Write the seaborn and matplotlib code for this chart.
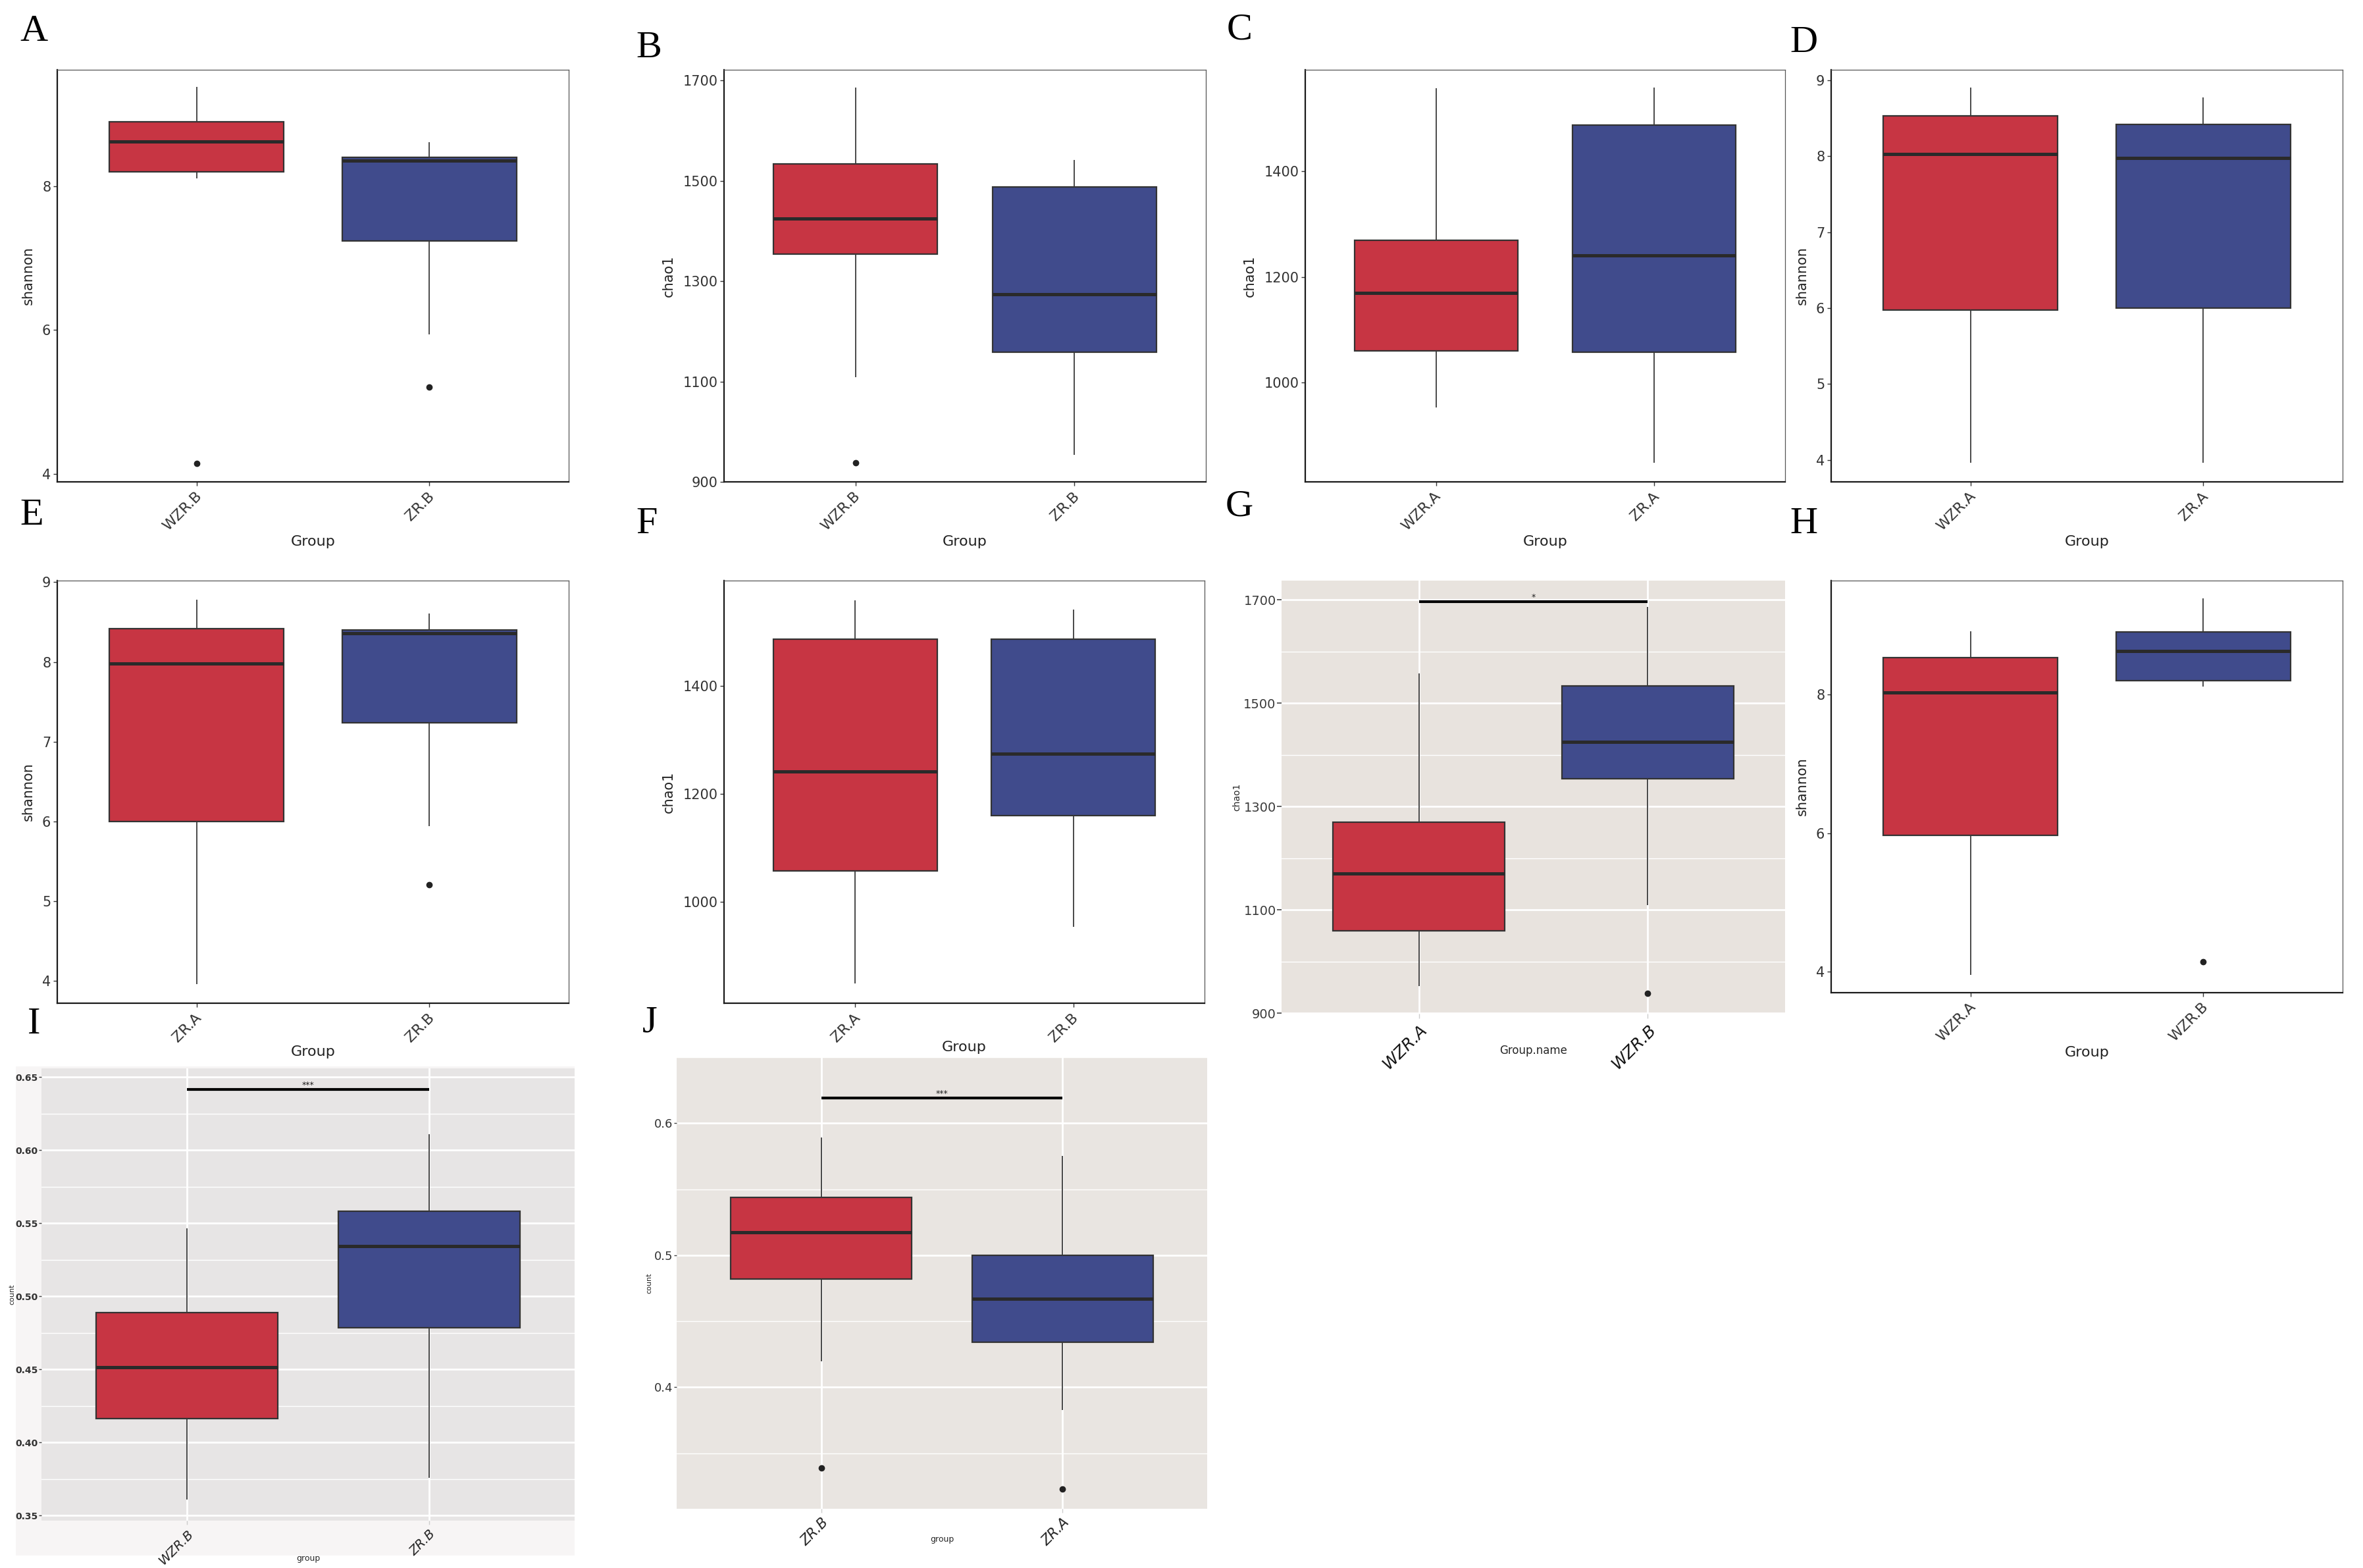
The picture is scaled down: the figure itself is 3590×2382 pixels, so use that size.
import numpy as np
import pandas as pd
import matplotlib
matplotlib.use("Agg")
import matplotlib.pyplot as plt
from matplotlib.patches import Rectangle
from matplotlib.transforms import ScaledTranslation
import seaborn as sns

# ---------------- data ----------------
# five-number summaries: [lower whisker, Q1, median, Q3, upper whisker]
shannon_WZR_A = [3.96, 5.97, 8.03, 8.53, 8.91]
shannon_WZR_B = [8.11, 8.20, 8.62, 8.90, 9.38]
shannon_ZR_A = [3.96, 6.00, 7.98, 8.42, 8.78]
shannon_ZR_B = [5.94, 7.24, 8.36, 8.40, 8.61]
shannon_out = {"WZR.A": [], "WZR.B": [4.15], "ZR.A": [], "ZR.B": [5.21]}

chao1_WZR_A = [953, 1060, 1170, 1269, 1557]
chao1_WZR_B = [1109, 1354, 1425, 1533, 1686]
chao1_ZR_A = [848, 1057, 1241, 1487, 1558]
chao1_ZR_B = [954, 1159, 1274, 1487, 1541]
chao1_out = {"WZR.A": [], "WZR.B": [938], "ZR.A": [], "ZR.B": []}

countI_WZR_B = [0.361, 0.4162, 0.4514, 0.489, 0.5464]
countI_ZR_B = [0.3757, 0.4784, 0.5342, 0.5581, 0.6108]
countI_out = {"WZR.B": [], "ZR.B": []}

countJ_ZR_B = [0.4195, 0.482, 0.5176, 0.544, 0.589]
countJ_ZR_A = [0.383, 0.434, 0.467, 0.500, 0.575]
countJ_out = {"ZR.B": [0.339], "ZR.A": [0.323]}

shannon = {"WZR.A": shannon_WZR_A, "WZR.B": shannon_WZR_B,
           "ZR.A": shannon_ZR_A, "ZR.B": shannon_ZR_B}
chao1 = {"WZR.A": chao1_WZR_A, "WZR.B": chao1_WZR_B,
         "ZR.A": chao1_ZR_A, "ZR.B": chao1_ZR_B}
countI = {"WZR.B": countI_WZR_B, "ZR.B": countI_ZR_B}
countJ = {"ZR.B": countJ_ZR_B, "ZR.A": countJ_ZR_A}

sig_G = (1696, "*")
sig_I = (0.6414, "***")
sig_J = (0.619, "***")

RED = "#C73543"
BLUE = "#404B8C"

W, H = 3590, 2382


def sample(five, out):
    lo, q1, med, q3, hi = five
    if not out:
        return [lo, q1, med, q3, hi]
    return list(out) + [lo, q1, q1, med, med, q3, q3, hi]


def frame(order, stats, outs):
    g, v = [], []
    for name in order:
        s = sample(stats[name], outs[name])
        g += [name] * len(s)
        v += s
    return pd.DataFrame({"group": g, "value": v})


sns.set_theme(style="ticks")
plt.rcParams["font.family"] = ["DejaVu Sans"]

fig = plt.figure(figsize=(W / 100, H / 100), dpi=100)

# light backdrop of panel I (pasted image)
fig.patches.append(Rectangle((24 / W, 1 - 2363 / H), (873 - 24) / W, (2363 - 1620) / H,
                             transform=fig.transFigure, facecolor="#F7F5F5",
                             edgecolor="none", zorder=-10))


def rect(x0, y0, x1, y1):
    return [x0 / W, 1 - y1 / H, (x1 - x0) / W, (y1 - y0) / H]


xlabel_pad = {"A": 2, "B": 2, "C": 2, "D": 2, "E": 1, "F": -4, "H": 2}

panels = [
    # letter, letter pos, axes px, order, stats, outs, ylim, yticks, ylabel, xlabel, style
    ("A", (30, 22), (87, 106, 864, 732), ["WZR.B", "ZR.B"], shannon, shannon_out,
     (3.89, 9.62), [4, 6, 8], "shannon", "Group", "white", None),
    ("B", (966, 47), (1100, 106, 1832, 732), ["WZR.B", "ZR.B"], chao1, chao1_out,
     (900, 1721), [900, 1100, 1300, 1500, 1700], "chao1", "Group", "white", None),
    ("C", (1864, 20), (1983, 106, 2712, 732), ["WZR.A", "ZR.A"], chao1, chao1_out,
     (812, 1592), [1000, 1200, 1400], "chao1", "Group", "white", None),
    ("D", (2719, 39), (2782, 106, 3559, 732), ["WZR.A", "ZR.A"], shannon, shannon_out,
     (3.71, 9.14), [4, 5, 6, 7, 8, 9], "shannon", "Group", "white", None),
    ("E", (30, 757), (87, 882, 864, 1524), ["ZR.A", "ZR.B"], shannon, shannon_out,
     (3.72, 9.02), [4, 5, 6, 7, 8, 9], "shannon", "Group", "white", None),
    ("F", (966, 770), (1100, 882, 1830, 1524), ["ZR.A", "ZR.B"], chao1, chao1_out,
     (812, 1595), [1000, 1200, 1400], "chao1", "Group", "white", None),
    ("G", (1862, 743), (1947, 882, 2712, 1540), ["WZR.A", "WZR.B"], chao1, chao1_out,
     (899, 1737), [900, 1100, 1300, 1500, 1700], "chao1", "Group.name", "ggG", sig_G),
    ("H", (2719, 770), (2782, 882, 3559, 1508), ["WZR.A", "WZR.B"], shannon, shannon_out,
     (3.70, 9.64), [4, 6, 8], "shannon", "Group", "white", None),
    ("I", (42, 1530), (63, 1623, 873, 2310), ["WZR.B", "ZR.B"], countI, countI_out,
     (0.3464, 0.656), [0.35, 0.40, 0.45, 0.50, 0.55, 0.60, 0.65], "count", "group", "ggI", sig_I),
    ("J", (976, 1527), (1028, 1606, 1834, 2292), ["ZR.B", "ZR.A"], countJ, countJ_out,
     (0.308, 0.634), [0.4, 0.5, 0.6], "count", "group", "ggJ", sig_J),
]

for (letter, lpos, px, order, stats, outs, ylim, yticks, ylabel, xlabel, style, sig) in panels:
    ax = fig.add_axes(rect(*px))
    df = frame(order, stats, outs)
    sns.boxplot(data=df, x="group", y="value", hue="group", order=order, hue_order=order,
                palette=[RED, BLUE], saturation=1, width=0.75, linecolor="#333333",
                linewidth=1.6, legend=False, ax=ax, showcaps=False,
                medianprops=dict(color="#2a2a2a", linewidth=3.6),
                whiskerprops=dict(color="#3a3a3a", linewidth=1.3),
                flierprops=dict(marker="o", markersize=6, markerfacecolor="#222222",
                                markeredgecolor="#222222"))
    ax.set_xlim(-0.6, 1.6)
    ax.set_ylim(*ylim)
    ax.set_yticks(yticks)

    if style == "white":
        ax.set_facecolor("white")
        for s in ["top", "right"]:
            ax.spines[s].set_color("#555555")
            ax.spines[s].set_linewidth(0.9)
        for s in ["left", "bottom"]:
            ax.spines[s].set_color("#1a1a1a")
            ax.spines[s].set_linewidth(1.6)
        ax.yaxis.set_major_formatter(matplotlib.ticker.FormatStrFormatter("%g"))
        ax.tick_params(axis="both", length=4, width=1, color="#333333",
                       labelsize=15, labelcolor="#333333", pad=3)
        ax.set_xticks([0, 1])
        ax.set_xticklabels(order, rotation=45, ha="right", rotation_mode="anchor",
                           fontsize=16, color="#333333")
        for lab in ax.get_xticklabels():
            lab.set_transform(lab.get_transform() + ScaledTranslation(-0.03, -0.02, fig.dpi_scale_trans))
        ax.set_ylabel(ylabel, fontsize=15, color="#222222", labelpad=8)
        ax.set_xlabel(xlabel, fontsize=16, color="#222222", labelpad=xlabel_pad[letter])
    else:
        bg = {"ggG": "#E8E3DE", "ggI": "#E7E5E5", "ggJ": "#E9E5E1"}[style]
        ax.set_facecolor(bg)
        for s in ax.spines.values():
            s.set_visible(False)
        minors = [(a + b) / 2 for a, b in zip(yticks[:-1], yticks[1:])]
        if style == "ggJ":
            minors = [0.35] + minors + [0.65]
        ax.set_yticks(minors, minor=True)
        ax.set_axisbelow(True)
        ax.grid(which="major", color="white", linewidth=2.0)
        ax.grid(which="minor", axis="y", color="white", linewidth=1.0)
        ax.tick_params(axis="y", which="minor", length=0)
        ax.set_xticks([0, 1])
        if style == "ggG":
            ax.yaxis.set_major_formatter(matplotlib.ticker.FormatStrFormatter("%g"))
            ax.tick_params(axis="y", length=5, width=1.2, color="#444444",
                           labelsize=14, labelcolor="#3a3a3a", pad=1)
            ax.tick_params(axis="x", length=5, width=1, color="#cccccc")
            ax.set_xticklabels(order, rotation=45, ha="right", rotation_mode="anchor",
                               fontsize=18, color="#111111", style="italic")
            ax.set_ylabel(ylabel, fontsize=10, labelpad=2)
            ax.set_xlabel(xlabel, fontsize=12, labelpad=-30)
        elif style == "ggI":
            ax.yaxis.set_major_formatter(matplotlib.ticker.FormatStrFormatter("%.2f"))
            ax.tick_params(axis="y", length=3, width=1, color="#444444",
                           labelsize=10, labelcolor="#333333", pad=1)
            ax.tick_params(axis="x", length=4, width=1, color="#cccccc")
            ax.set_xticklabels(order, rotation=45, ha="right", rotation_mode="anchor",
                               fontsize=14, color="#222222", style="italic")
            for lab in ax.get_yticklabels():
                lab.set_fontweight("bold")
            ax.set_ylabel(ylabel, fontsize=8, labelpad=0)
            ax.set_xlabel(xlabel, fontsize=9, labelpad=-14)
        else:
            ax.yaxis.set_major_formatter(matplotlib.ticker.FormatStrFormatter("%g"))
            ax.tick_params(axis="y", length=3, width=1, color="#444444",
                           labelsize=13, labelcolor="#333333", pad=1)
            ax.tick_params(axis="x", length=4, width=1, color="#cccccc")
            ax.set_xticklabels(order, rotation=45, ha="right", rotation_mode="anchor",
                               fontsize=15, color="#222222", style="italic")
            ax.set_ylabel(ylabel, fontsize=8, labelpad=2)
            ax.set_xlabel(xlabel, fontsize=9, labelpad=-14)

    if sig is not None:
        yv, txt = sig
        ax.plot([0, 1], [yv, yv], color="black", linewidth=3, solid_capstyle="butt", zorder=5)
        ax.text(0.5, yv, txt, ha="center", va="bottom", fontsize=9, color="#222222", zorder=6)

    fig.text(lpos[0] / W, 1 - lpos[1] / H, letter, ha="left", va="top",
             fontsize=42, family="Liberation Serif", color="black")

fig.savefig("out.png", dpi=100, facecolor="white")
